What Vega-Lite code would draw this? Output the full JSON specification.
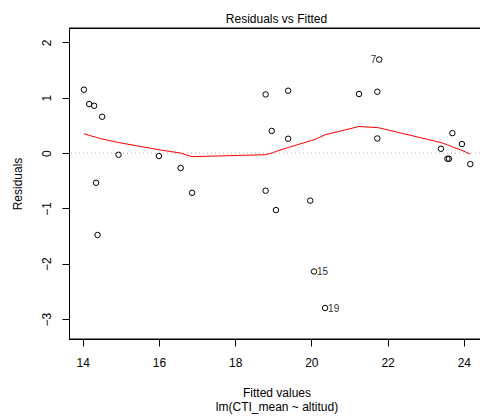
{
  "$schema": "https://vega.github.io/schema/vega-lite/v6.json",
  "autosize": {"type": "none"},
  "padding": {"left": 69, "top": 28, "right": 0, "bottom": 77},
  "width": 415,
  "height": 311,
  "background": "white",
  "title": {"text": "Residuals vs Fitted", "fontSize": 12, "fontWeight": "normal", "font": "Liberation Sans", "color": "black", "anchor": "middle", "baseline": "alphabetic", "offset": -7},
  "datasets": {
    "pts": [
      {"fitted": 14.03, "resid": 1.145, "lab": ""},
      {"fitted": 14.17, "resid": 0.886, "lab": ""},
      {"fitted": 14.30, "resid": 0.855, "lab": ""},
      {"fitted": 14.35, "resid": -0.537, "lab": ""},
      {"fitted": 14.39, "resid": -1.48, "lab": ""},
      {"fitted": 14.51, "resid": 0.656, "lab": ""},
      {"fitted": 14.94, "resid": -0.031, "lab": ""},
      {"fitted": 16.00, "resid": -0.054, "lab": ""},
      {"fitted": 16.57, "resid": -0.27, "lab": ""},
      {"fitted": 16.87, "resid": -0.718, "lab": ""},
      {"fitted": 18.80, "resid": 1.06, "lab": ""},
      {"fitted": 18.80, "resid": -0.68, "lab": ""},
      {"fitted": 18.96, "resid": 0.40, "lab": ""},
      {"fitted": 19.07, "resid": -1.03, "lab": ""},
      {"fitted": 19.39, "resid": 1.127, "lab": ""},
      {"fitted": 19.39, "resid": 0.259, "lab": ""},
      {"fitted": 19.97, "resid": -0.86, "lab": ""},
      {"fitted": 20.07, "resid": -2.14, "lab": "15"},
      {"fitted": 20.36, "resid": -2.80, "lab": "19"},
      {"fitted": 21.25, "resid": 1.067, "lab": ""},
      {"fitted": 21.73, "resid": 1.108, "lab": ""},
      {"fitted": 21.73, "resid": 0.264, "lab": ""},
      {"fitted": 21.78, "resid": 1.69, "lab": "7"},
      {"fitted": 23.40, "resid": 0.078, "lab": ""},
      {"fitted": 23.57, "resid": -0.103, "lab": ""},
      {"fitted": 23.61, "resid": -0.103, "lab": ""},
      {"fitted": 23.70, "resid": 0.36, "lab": ""},
      {"fitted": 23.95, "resid": 0.163, "lab": ""},
      {"fitted": 24.17, "resid": -0.20, "lab": ""}
    ],
    "smooth": [
      {"fitted": 14.03, "value": 0.35},
      {"fitted": 14.17, "value": 0.32},
      {"fitted": 14.30, "value": 0.295},
      {"fitted": 14.35, "value": 0.285},
      {"fitted": 14.39, "value": 0.275},
      {"fitted": 14.51, "value": 0.255},
      {"fitted": 14.94, "value": 0.19},
      {"fitted": 16.00, "value": 0.06},
      {"fitted": 16.57, "value": 0.0},
      {"fitted": 16.87, "value": -0.065},
      {"fitted": 18.80, "value": -0.03},
      {"fitted": 18.96, "value": 0.0},
      {"fitted": 19.07, "value": 0.03},
      {"fitted": 19.39, "value": 0.10},
      {"fitted": 19.97, "value": 0.22},
      {"fitted": 20.07, "value": 0.24},
      {"fitted": 20.36, "value": 0.33},
      {"fitted": 21.25, "value": 0.48},
      {"fitted": 21.73, "value": 0.46},
      {"fitted": 21.78, "value": 0.455},
      {"fitted": 23.40, "value": 0.19},
      {"fitted": 23.57, "value": 0.15},
      {"fitted": 23.61, "value": 0.14},
      {"fitted": 23.70, "value": 0.11},
      {"fitted": 23.95, "value": 0.05},
      {"fitted": 24.17, "value": -0.02}
    ]
  },
  "layer": [
    {
      "data": {"values": [{"y": 0}]},
      "mark": {"type": "rule", "color": "#aaaaaa", "strokeDash": [1, 3], "strokeWidth": 1},
      "encoding": {"y": {"field": "y", "type": "quantitative", "scale": {"domain": [-3.36, 2.26], "nice": false, "zero": false}}}
    },
    {
      "data": {"values": [{"edge": 2.26}, {"edge": -3.36}]},
      "mark": {"type": "rule", "color": "black", "strokeWidth": 1},
      "encoding": {"y": {"field": "edge", "type": "quantitative"}}
    },
    {
      "data": {"name": "pts"},
      "mark": {"type": "point", "shape": "circle", "filled": false, "color": "black", "size": 30, "strokeWidth": 1, "opacity": 1},
      "encoding": {
        "x": {"field": "fitted", "type": "quantitative", "scale": {"domain": [13.64, 24.53], "nice": false, "zero": false},
              "axis": {"values": [14, 16, 18, 20, 22, 24], "format": "d", "title": ["Fitted values", "lm(CTI_mean ~ altitud)"], "labelPadding": 11, "titleBaseline": "alphabetic", "titleY": 57, "titleLineHeight": 14.5}},
        "y": {"field": "resid", "type": "quantitative", "scale": {"domain": [-3.36, 2.26], "nice": false, "zero": false},
              "axis": {"values": [-3, -2, -1, 0, 1, 2], "format": "d", "title": "Residuals", "labelAngle": -90, "labelPadding": 9, "titleX": -52, "titleBaseline": "middle"}}
      }
    },
    {
      "data": {"name": "smooth"},
      "mark": {"type": "line", "color": "#ff0000", "strokeWidth": 1},
      "encoding": {
        "x": {"field": "fitted", "type": "quantitative"},
        "y": {"field": "value", "type": "quantitative"}
      }
    },
    {
      "data": {"name": "pts"},
      "transform": [{"filter": "datum.lab == '7'"}],
      "mark": {"type": "text", "align": "right", "baseline": "middle", "dx": -3, "fontSize": 10, "color": "#333333"},
      "encoding": {
        "x": {"field": "fitted", "type": "quantitative"},
        "y": {"field": "resid", "type": "quantitative"},
        "text": {"field": "lab"}
      }
    },
    {
      "data": {"name": "pts"},
      "transform": [{"filter": "datum.lab == '15' || datum.lab == '19'"}],
      "mark": {"type": "text", "align": "left", "baseline": "middle", "dx": 3, "dy": 1, "fontSize": 10, "color": "#333333"},
      "encoding": {
        "x": {"field": "fitted", "type": "quantitative"},
        "y": {"field": "resid", "type": "quantitative"},
        "text": {"field": "lab"}
      }
    }
  ],
  "config": {
    "font": "Liberation Sans",
    "view": {"stroke": "black", "strokeWidth": 1},
    "axis": {"grid": false, "domain": false, "tickColor": "black", "tickSize": 7, "labelColor": "black", "labelFontSize": 12, "titleFontSize": 12, "titleFontWeight": "normal", "titleColor": "black", "labelFont": "Liberation Sans", "titleFont": "Liberation Sans"}
  }
}
